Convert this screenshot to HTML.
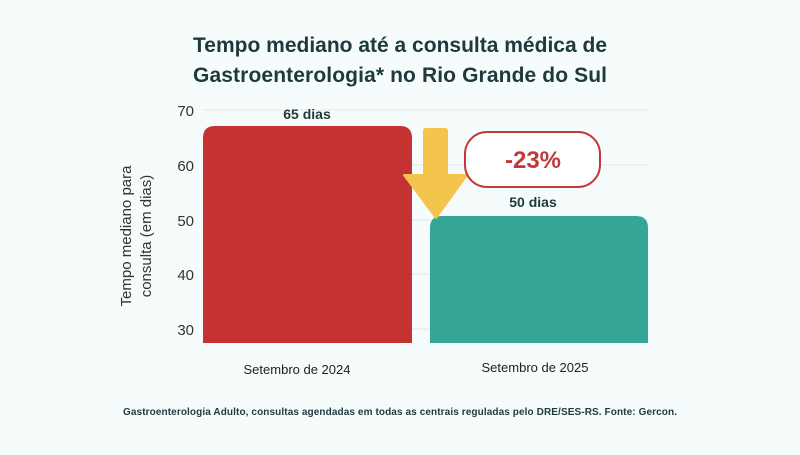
<!DOCTYPE html>
<html><head><meta charset="utf-8"><style>
body{margin:0;width:800px;height:450px;background:#f6fbfb;overflow:hidden;font-family:"Liberation Sans",sans-serif}
</style></head><body>
<svg width="800" height="450" xmlns="http://www.w3.org/2000/svg" font-family="Liberation Sans, sans-serif">
<rect width="800" height="450" fill="#f6fbfb"/>
<text x="400" y="52" text-anchor="middle" font-size="21" font-weight="bold" fill="#1e3a3c" textLength="414">Tempo mediano até a consulta médica de</text>
<text x="400" y="82" text-anchor="middle" font-size="21" font-weight="bold" fill="#1e3a3c" textLength="414">Gastroenterologia* no Rio Grande do Sul</text>
<g stroke="#e2eaea" stroke-width="1">
<line x1="203" y1="110" x2="648" y2="110"/><line x1="203" y1="165" x2="648" y2="165"/>
<line x1="203" y1="220" x2="648" y2="220"/><line x1="203" y1="274" x2="648" y2="274"/>
<line x1="203" y1="329" x2="648" y2="329"/></g>
<g font-size="15" fill="#333" text-anchor="end">
<text x="194" y="116">70</text><text x="194" y="171">60</text><text x="194" y="226">50</text>
<text x="194" y="280">40</text><text x="194" y="335">30</text></g>
<text transform="translate(131,236) rotate(-90)" text-anchor="middle" font-size="15" fill="#333">Tempo mediano para</text>
<text transform="translate(151,236) rotate(-90)" text-anchor="middle" font-size="15" fill="#333">consulta (em dias)</text>
<path d="M203,343 V138 Q203,126 215,126 H400 Q412,126 412,138 V343 Z" fill="#c43232"/>
<path d="M430,343 V228 Q430,216 442,216 H636 Q648,216 648,228 V343 Z" fill="#34a596"/>
<text x="307" y="119" text-anchor="middle" font-size="14" font-weight="bold" fill="#1e3a3c">65 dias</text>
<text x="533" y="207" text-anchor="middle" font-size="14" font-weight="bold" fill="#1e3a3c">50 dias</text>
<path d="M426,129 H445 Q447,129 447,131 V175 H467 L436,218 L404,175 H424 V131 Q424,129 426,129 Z" fill="#f3c54d" stroke="#f3c54d" stroke-width="2" stroke-linejoin="round"/>
<rect x="465" y="132" width="135" height="55" rx="22" fill="#fff" stroke="#c0393b" stroke-width="2"/>
<text x="533" y="168" text-anchor="middle" font-size="24" font-weight="bold" fill="#c0393b">-23%</text>
<text x="297" y="374" text-anchor="middle" font-size="13" fill="#222">Setembro de 2024</text>
<text x="535" y="372" text-anchor="middle" font-size="13" fill="#222">Setembro de 2025</text>
<text x="400" y="415" text-anchor="middle" font-size="10" font-weight="bold" fill="#1e3a3c" textLength="554">Gastroenterologia Adulto, consultas agendadas em todas as centrais reguladas pelo DRE/SES-RS. Fonte: Gercon.</text>
</svg>
</body></html>
